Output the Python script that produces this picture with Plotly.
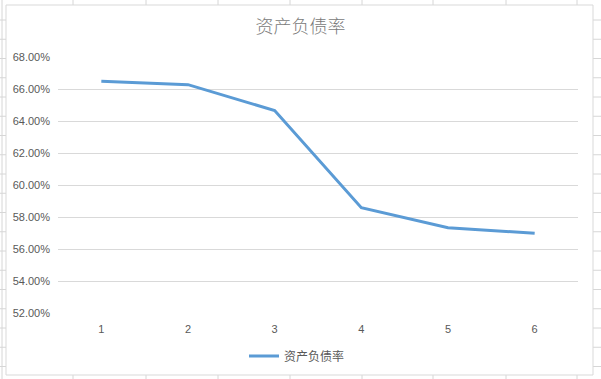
import plotly.graph_objects as go

# Data
categories = ["1", "2", "3", "4", "5", "6"]
debt_ratio = [0.6649, 0.6627, 0.6465, 0.5858, 0.5733, 0.5698]
series_name = "资产负债率"
title_text = "资产负债率"
y_ticks = [0.52, 0.54, 0.56, 0.58, 0.60, 0.62, 0.64, 0.66, 0.68]

W, H = 601, 379
L, R, T, B = 58, 23, 57, 66
PW, PH = W - L - R, H - T - B


def px_x(p):
    return (p - L) / PW


def px_y(p):
    return (H - B - p) / PH


fig = go.Figure()
fig.add_trace(go.Scatter(
    x=categories, y=debt_ratio, mode="lines", name=series_name,
    line=dict(color="#5B9BD5", width=3),
))

shapes = []
grid_col = "#d6d6d6"
# spreadsheet background cell lines (outside chart area)
col_lines = [73, 146, 218, 290, 362, 433, 506, 577]
for cx in col_lines:
    for (y0, y1) in [(0, 5), (375, 379)]:
        shapes.append(dict(type="line", xref="paper", yref="paper",
                           x0=px_x(cx), x1=px_x(cx), y0=px_y(y0), y1=px_y(y1),
                           line=dict(color=grid_col, width=1), layer="below"))
row_y = [20 + 19.25 * i for i in range(19)]
for ry in row_y:
    for (x0, x1) in [(0, 6), (593, 601)]:
        shapes.append(dict(type="line", xref="paper", yref="paper",
                           x0=px_x(x0), x1=px_x(x1), y0=px_y(ry), y1=px_y(ry),
                           line=dict(color=grid_col, width=1), layer="below"))
shapes.append(dict(type="line", xref="paper", yref="paper",
                   x0=px_x(2), x1=px_x(2), y0=px_y(0), y1=px_y(379),
                   line=dict(color=grid_col, width=1), layer="below"))
# chart area border
shapes.append(dict(type="rect", xref="paper", yref="paper",
                   x0=px_x(6), x1=px_x(593), y0=px_y(5), y1=px_y(375),
                   line=dict(color="#d9d9d9", width=1), fillcolor="white", layer="below"))

fig.update_layout(
    width=W, height=H,
    margin=dict(l=L, r=R, t=T, b=B, autoexpand=False),
    paper_bgcolor="white", plot_bgcolor="rgba(0,0,0,0)",
    shapes=shapes,
    title=dict(text=title_text, x=0.5, xanchor="center", xref="container",
               y=1 - 27 / H, yanchor="middle", yref="container",
               font=dict(family="Noto Sans CJK SC", size=18, color="#7a7a7a",
                         weight=300)),
    showlegend=True,
    legend=dict(orientation="h", x=px_x(297), xanchor="center",
                y=px_y(356), yanchor="middle",
                font=dict(family="Noto Sans CJK SC", size=12, color="#595959"),
                bgcolor="rgba(0,0,0,0)"),
    font=dict(family="Liberation Sans", size=11, color="#595959"),
)
fig.update_xaxes(type="category", range=[-0.5, 5.5], showgrid=False, showline=False,
                 zeroline=False, ticks="", ticklabelstandoff=8,
                 tickfont=dict(family="Liberation Sans", size=11, color="#595959"))
fig.update_yaxes(range=[0.52, 0.68], tickvals=y_ticks,
                 ticktext=[f"{v*100:.2f}%" for v in y_ticks],
                 showgrid=True, gridcolor="#d9d9d9", gridwidth=1,
                 zeroline=False, showline=False, ticks="", ticklabelstandoff=7,
                 tickfont=dict(family="Liberation Sans", size=11, color="#595959"))

fig.write_html("out.html", config={"displayModeBar": False},
               post_script="document.body.style.margin='0';")
